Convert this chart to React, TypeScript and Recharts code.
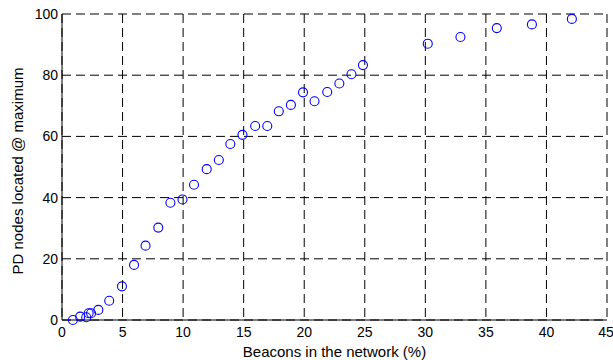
import { ScatterChart, Scatter, XAxis, YAxis, CartesianGrid } from 'recharts';

const beacons = [
  0.9, 1.5, 2.0, 2.2, 2.4, 3.0, 3.9, 4.95, 5.95, 6.9, 7.95, 8.95, 9.95, 10.9,
  11.95, 12.95, 13.9, 14.9, 15.95, 16.95, 17.9, 18.9, 19.9, 20.85, 21.9, 22.9,
  23.9, 24.85, 30.2, 32.9, 35.9, 38.8, 42.1,
];
const located = [
  0, 1.1, 0.9, 2.2, 2.2, 3.3, 6.3, 11, 18, 24.3, 30.2, 38.3, 39.4, 44.2, 49.3,
  52.3, 57.5, 60.5, 63.4, 63.4, 68.2, 70.3, 74.4, 71.5, 74.5, 77.3, 80.3, 83.3,
  90.3, 92.5, 95.4, 96.6, 98.4,
];
const xTicks = [0, 5, 10, 15, 20, 25, 30, 35, 40, 45];
const yTicks = [0, 20, 40, 60, 80, 100];

const points = beacons.map((x, i) => ({ x, y: located[i] }));

const font = '"Liberation Sans", Arial, sans-serif';

const Ring = (props: any) => (
  <circle cx={props.cx} cy={props.cy} r={4.5} fill="none" stroke="#0000ff" strokeWidth={1.1} />
);

export default function App() {
  return (
    <div style={{ position: 'absolute', left: 0, top: 0, background: '#fff' }}>
      <ScatterChart width={613} height={360} margin={{ top: 14, right: 6, bottom: 0, left: 0 }}>
        <CartesianGrid stroke="#000" strokeDasharray="9 5" />
        <XAxis
          type="number"
          dataKey="x"
          domain={[0, 45]}
          ticks={xTicks}
          height={40}
          tickLine={false}
          tickSize={4}
          tickMargin={3}
          axisLine={{ stroke: '#000' }}
          tick={{ fill: '#000', fontSize: 14, fontFamily: font }}
          label={{
            content: ({ viewBox }: any) => (
              <text
                x={viewBox.x + viewBox.width / 2}
                y={viewBox.y + 37}
                textAnchor="middle"
                fontSize={15}
                fontFamily={font}
                fill="#000"
              >
                Beacons in the network (%)
              </text>
            ),
          }}
        />
        <YAxis
          type="number"
          dataKey="y"
          domain={[0, 100]}
          ticks={yTicks}
          width={62}
          tickLine={false}
          tickSize={4}
          tickMargin={0}
          axisLine={{ stroke: '#000' }}
          tick={{ fill: '#000', fontSize: 14, fontFamily: font }}
          label={{
            content: ({ viewBox }: any) => {
              const cx = viewBox.x + 23;
              const cy = viewBox.y + viewBox.height / 2 + 4;
              return (
                <text
                  x={cx}
                  y={cy}
                  transform={`rotate(-90, ${cx}, ${cy})`}
                  textAnchor="middle"
                  fontSize={15}
                  fontFamily={font}
                  fill="#000"
                >
                  PD nodes located @ maximum
                </text>
              );
            },
          }}
        />
        <Scatter data={points} shape={Ring} isAnimationActive={false} />
      </ScatterChart>
    </div>
  );
}
